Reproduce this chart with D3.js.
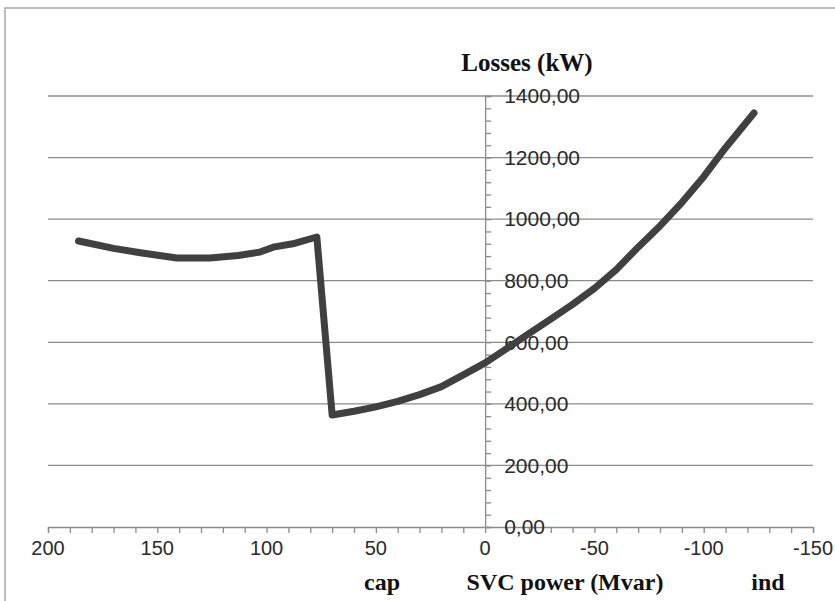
<!DOCTYPE html>
<html>
<head>
<meta charset="utf-8">
<script src="https://cdn.jsdelivr.net/npm/d3@7"></script>
<style>
  body { margin: 0; background: #fff; }
  svg { display: block; }
</style>
</head>
<body>
<div id="chart"></div>
<script>
// SVC reactive power (Mvar), positive = capacitive, negative = inductive
const svcPower = [186, 170, 157, 141, 126, 113, 103, 97, 88, 77,
                  70, 60, 50, 40, 30, 20, 10, 0, -10, -20,
                  -30, -40, -50, -60, -70, -80, -90, -100, -110, -123];
// Losses (kW)
const losses =   [929, 905, 890, 874, 874, 882, 893, 909, 920, 942,
                  364, 376, 390, 408, 430, 456, 494, 533, 580, 628,
                  675, 723, 775, 836, 909, 978, 1054, 1138, 1232, 1345];

const xTicks = [200, 150, 100, 50, 0, -50, -100, -150];
const yTicks = [0, 200, 400, 600, 800, 1000, 1200, 1400];

const width = 835, height = 601;
const margin = {top: 96, right: 22, bottom: 74, left: 48};

const svg = d3.select("#chart").append("svg")
    .attr("width", width)
    .attr("height", height);

// chart frame
svg.append("rect")
    .attr("x", 5).attr("y", 8)
    .attr("width", width + 10).attr("height", height + 10)
    .attr("fill", "none")
    .attr("stroke", "#a6a6a6")
    .attr("stroke-width", 1.5);

const x = d3.scaleLinear()
    .domain([200, -150])
    .range([margin.left, width - margin.right]);

const y = d3.scaleLinear()
    .domain([0, 1400])
    .range([height - margin.bottom, margin.top]);

// horizontal gridlines
svg.append("g")
    .selectAll("line")
    .data(yTicks.filter(d => d > 0))
    .join("line")
    .attr("x1", x(200)).attr("x2", x(-150))
    .attr("y1", d => y(d)).attr("y2", d => y(d))
    .attr("stroke", "#8c8c8c")
    .attr("stroke-width", 1.3);

// x axis, crossing at y = 0
svg.append("g")
    .attr("transform", `translate(0,${y(0)})`)
    .call(d3.axisBottom(x).tickValues(d3.range(200, -151, -10)).tickSize(6).tickFormat(""))
    .call(g => g.selectAll("path, line").attr("stroke", "#8c8c8c").attr("stroke-width", 1.3));

svg.append("g")
    .selectAll("text")
    .data(xTicks)
    .join("text")
    .attr("x", d => x(d))
    .attr("y", y(0) + 28)
    .attr("text-anchor", "middle")
    .attr("font-family", "Liberation Sans, Arial, sans-serif")
    .attr("font-size", 20)
    .attr("fill", "#2a2a2a")
    .text(d => d);

// y axis, crossing at x = 0
svg.append("g")
    .attr("transform", `translate(${x(0)},0)`)
    .call(d3.axisRight(y).tickValues(d3.range(0, 1401, 40)).tickSize(6).tickFormat(""))
    .call(g => g.selectAll("path, line").attr("stroke", "#8c8c8c").attr("stroke-width", 1.3));

svg.append("g")
    .selectAll("text")
    .data(yTicks)
    .join("text")
    .attr("x", x(0) + 19)
    .attr("y", d => y(d))
    .attr("dy", "0.35em")
    .attr("font-family", "Liberation Sans, Arial, sans-serif")
    .attr("font-size", 21)
    .attr("fill", "#2a2a2a")
    .text(d => d3.format(".2f")(d).replace(".", ","));

// the series
const line = d3.line()
    .x((d, i) => x(svcPower[i]))
    .y(d => y(d));

svg.append("path")
    .datum(losses)
    .attr("d", line)
    .attr("fill", "none")
    .attr("stroke", "#404040")
    .attr("stroke-width", 7)
    .attr("stroke-linejoin", "round")
    .attr("stroke-linecap", "round");

// titles
const serif = "Liberation Serif, Times New Roman, serif";
svg.append("text")
    .attr("x", 527).attr("y", 71)
    .attr("text-anchor", "middle")
    .attr("font-family", serif)
    .attr("font-weight", "bold")
    .attr("font-size", 25)
    .attr("fill", "#111")
    .text("Losses (kW)");

const xLabels = [
    {text: "cap", cx: 382},
    {text: "SVC power (Mvar)", cx: 565},
    {text: "ind", cx: 768}
];
svg.append("g")
    .selectAll("text")
    .data(xLabels)
    .join("text")
    .attr("x", d => d.cx)
    .attr("y", 590)
    .attr("text-anchor", "middle")
    .attr("font-family", serif)
    .attr("font-weight", "bold")
    .attr("font-size", 24)
    .attr("fill", "#111")
    .text(d => d.text);
</script>
</body>
</html>
